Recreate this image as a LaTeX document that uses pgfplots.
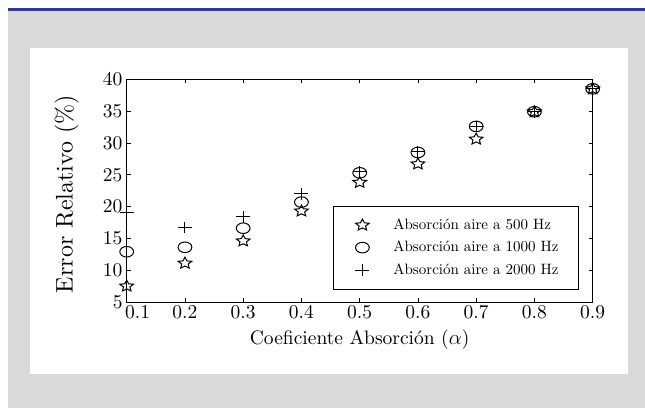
\documentclass[border=0pt]{standalone}
\usepackage{fontspec}
\setmainfont{lmroman10-regular.otf}
\usepackage{pgfplots}
\pgfplotsset{compat=1.18}

\definecolor{bggray}{RGB}{217,217,217}
\definecolor{topblue}{RGB}{46,56,140}

% outlined five-point star, as in the original figure
\pgfdeclareplotmark{pentastar}{%
  \pgfpathmoveto{\pgfpointpolar{90}{\pgfplotmarksize}}%
  \pgfpathlineto{\pgfpointpolar{126}{0.47\pgfplotmarksize}}%
  \pgfpathlineto{\pgfpointpolar{162}{\pgfplotmarksize}}%
  \pgfpathlineto{\pgfpointpolar{198}{0.47\pgfplotmarksize}}%
  \pgfpathlineto{\pgfpointpolar{234}{\pgfplotmarksize}}%
  \pgfpathlineto{\pgfpointpolar{270}{0.47\pgfplotmarksize}}%
  \pgfpathlineto{\pgfpointpolar{306}{\pgfplotmarksize}}%
  \pgfpathlineto{\pgfpointpolar{342}{0.47\pgfplotmarksize}}%
  \pgfpathlineto{\pgfpointpolar{18}{\pgfplotmarksize}}%
  \pgfpathlineto{\pgfpointpolar{54}{0.47\pgfplotmarksize}}%
  \pgfpathclose
  \pgfusepathqstroke}

\begin{document}
\begin{tikzpicture}[x=1pt,y=1pt]
\path[use as bounding box] (0,0) rectangle (645,408);
\fill[bggray] (8,0) rectangle (645,400);
\fill[topblue] (8,397) rectangle (645,399.5);
\fill[white] (30,34) rectangle (628.3,360.3);

\begin{axis}[
  at={(126.7pt,106pt)}, anchor=south west,
  scale only axis, width=466pt, height=222.7pt,
  xmin=0.1, xmax=0.9, ymin=5, ymax=40,
  xtick={0.1,0.2,0.3,0.4,0.5,0.6,0.7,0.8,0.9},
  xticklabels={\hspace*{22pt}0.1,0.2,0.3,0.4,0.5,0.6,0.7,0.8,0.9},
  ytick={5,10,15,20,25,30,35,40},
  /pgf/number format/assume math mode=true,
  tick label style={font=\fontsize{19.5}{19.5}\selectfont},
  yticklabel style={inner sep=4pt},
  major tick length=4pt,
  axis line style={line width=0.8pt},
  tick style={line width=0.8pt, black},
  xlabel={Coeficiente Absorción ($\alpha$)},
  xlabel style={font=\fontsize{19.5}{19.5}\selectfont, at={(axis description cs:0.5,0)}, anchor=north, yshift=-24pt},
  ylabel={Error Relativo (\%)},
  ylabel style={font=\fontsize{24}{24}\selectfont, at={(axis description cs:-0.1288,0.485)}, anchor=center},
  clip=false,
  legend cell align=left,
  legend image code/.code={\path[draw=none] (-14pt,-6pt) rectangle (14pt,6pt); \draw[#1] plot coordinates {(0pt,0pt)};},
  legend style={at={(rel axis cs:0.4427,0.4324)}, anchor=north west, draw=black, line width=0.8pt,
    font=\fontsize{15}{15}\selectfont, inner xsep=15pt, inner ysep=8pt, row sep=0.5pt,
    nodes={inner sep=5pt, text height=10pt, text depth=2pt},
    /tikz/every odd column/.append style={column sep=12pt}},
]
\addplot[only marks, mark=pentastar, mark size=6pt, mark options={xscale=1.2, line width=1pt}]
  coordinates {(0.1,7.5) (0.2,11.1) (0.3,14.6) (0.4,19.3) (0.5,23.8) (0.6,26.7) (0.7,30.6) (0.8,34.9) (0.9,38.5)};
\addlegendentry{Absorción aire a 500 Hz}
\addplot[only marks, mark=o, mark size=5.3pt, mark options={xscale=1.3, line width=1pt}]
  coordinates {(0.1,12.9) (0.2,13.6) (0.3,16.6) (0.4,20.7) (0.5,25.3) (0.6,28.5) (0.7,32.6) (0.8,34.9) (0.9,38.5)};
\addlegendentry{Absorción aire a 1000 Hz}
\addplot[only marks, mark=+, mark size=5.8pt, mark options={xscale=1.2, line width=1pt}]
  coordinates {(0.1,19.0) (0.2,16.7) (0.3,18.4) (0.4,22.0) (0.5,25.5) (0.6,28.6) (0.7,32.6) (0.8,34.9) (0.9,38.5)};
\addlegendentry{Absorción aire a 2000 Hz}
\end{axis}
\end{tikzpicture}
\end{document}
